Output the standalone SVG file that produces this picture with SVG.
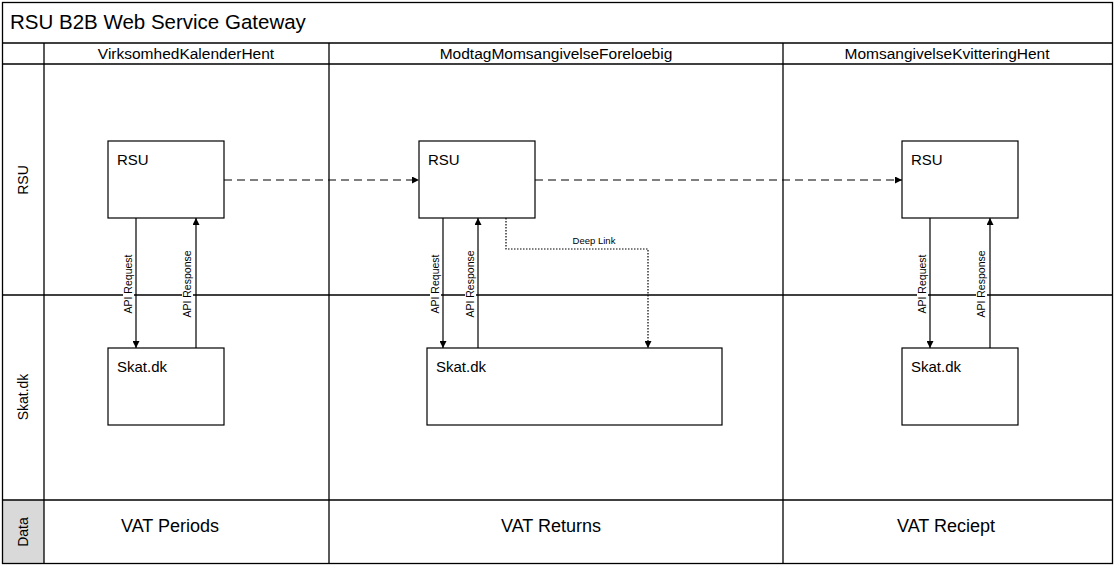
<svg xmlns="http://www.w3.org/2000/svg" width="1115" height="566" viewBox="0 0 1115 566">
<defs>
<style>
.ln{stroke:#000;stroke-width:1.3;fill:none}
.box{fill:#fff;stroke:#000;stroke-width:1.2}
.t{font-family:"Liberation Sans",Arial,sans-serif;fill:#000}
.hdr{font-size:15.5px;text-anchor:middle}
.node{font-size:15px}
.data{font-size:18px;text-anchor:middle}
.lane{font-size:14px;text-anchor:middle}
.sm{font-size:10.5px;text-anchor:middle}
.dl{font-size:9.5px;text-anchor:middle}
.bg{fill:#fff;stroke:none}
.conn{stroke:#000;stroke-width:1.2;fill:none}
</style>
<marker id="ah" viewBox="0 0 10 10" refX="10" refY="5" markerWidth="7" markerHeight="7" orient="auto" markerUnits="userSpaceOnUse">
<path d="M0,0 L10,5 L0,10 Z" fill="#000"/>
</marker>
</defs>
<rect x="0" y="0" width="1115" height="566" fill="#fff"/>
<g id="pool">
<rect x="2.5" y="500" width="41.5" height="63.5" fill="#d9d9d9"/>
<line x1="2.5" y1="43" x2="1112.5" y2="43" class="ln"/>
<line x1="2.5" y1="64" x2="1112.5" y2="64" class="ln"/>
<line x1="44" y1="43" x2="44" y2="563.5" class="ln"/>
<line x1="329" y1="43" x2="329" y2="563.5" class="ln"/>
<line x1="783" y1="43" x2="783" y2="563.5" class="ln"/>
<line x1="2.5" y1="295" x2="1112.5" y2="295" class="ln"/>
<line x1="2.5" y1="500" x2="1112.5" y2="500" class="ln"/>
<rect x="2.5" y="2.5" width="1110" height="561" class="ln"/>
<text x="10" y="29" class="t" font-size="20.5">RSU B2B Web Service Gateway</text>
<text x="186" y="59" class="t hdr">VirksomhedKalenderHent</text>
<text x="556" y="59" class="t hdr">ModtagMomsangivelseForeloebig</text>
<text x="947" y="59" class="t hdr">MomsangivelseKvitteringHent</text>
<text transform="translate(28,180) rotate(-90)" class="t lane">RSU</text>
<text transform="translate(28,397) rotate(-90)" class="t lane">Skat.dk</text>
<text transform="translate(28,532) rotate(-90)" class="t lane">Data</text>
<text x="170" y="532" class="t data">VAT Periods</text>
<text x="551" y="532" class="t data">VAT Returns</text>
<text x="946" y="532" class="t data">VAT Reciept</text>
</g>
<g id="connectors">
<line x1="224" y1="180" x2="419" y2="180" class="conn" stroke-dasharray="8,5" marker-end="url(#ah)"/>
<line x1="535" y1="180" x2="902" y2="180" class="conn" stroke-dasharray="8,5" marker-end="url(#ah)"/>
<line x1="136" y1="218" x2="136" y2="348" class="conn" marker-end="url(#ah)"/>
<line x1="196" y1="348" x2="196" y2="218" class="conn" marker-end="url(#ah)"/>
<line x1="443" y1="218" x2="443" y2="348" class="conn" marker-end="url(#ah)"/>
<line x1="478" y1="348" x2="478" y2="218" class="conn" marker-end="url(#ah)"/>
<line x1="930" y1="218" x2="930" y2="348" class="conn" marker-end="url(#ah)"/>
<line x1="990" y1="348" x2="990" y2="218" class="conn" marker-end="url(#ah)"/>
<polyline points="506,218 506,249 648,249 648,348" class="conn" stroke-width="1" stroke-dasharray="1.5,1.5" marker-end="url(#ah)"/>
<rect x="123" y="253" width="11" height="62" class="bg"/>
<rect x="182" y="249" width="11" height="70" class="bg"/>
<rect x="430" y="253" width="11" height="62" class="bg"/>
<rect x="465" y="249" width="11" height="70" class="bg"/>
<rect x="917" y="253" width="11" height="62" class="bg"/>
<rect x="976" y="249" width="11" height="70" class="bg"/>
<text transform="translate(132,284) rotate(-90)" class="t sm">API Request</text>
<text transform="translate(191,284) rotate(-90)" class="t sm">API Response</text>
<text transform="translate(439,284) rotate(-90)" class="t sm">API Request</text>
<text transform="translate(474,284) rotate(-90)" class="t sm">API Response</text>
<text transform="translate(926,284) rotate(-90)" class="t sm">API Request</text>
<text transform="translate(985,284) rotate(-90)" class="t sm">API Response</text>
<text x="594" y="244" class="t dl">Deep Link</text>
</g>
<g id="rsu1"><rect x="108" y="141" width="116" height="77" class="box"/><text x="117" y="165" class="t node">RSU</text></g>
<g id="rsu2"><rect x="419" y="141" width="116" height="77" class="box"/><text x="428" y="165" class="t node">RSU</text></g>
<g id="rsu3"><rect x="902" y="141" width="116" height="77" class="box"/><text x="911" y="165" class="t node">RSU</text></g>
<g id="skat1"><rect x="108" y="348" width="116" height="77" class="box"/><text x="117" y="372" class="t node">Skat.dk</text></g>
<g id="skat2"><rect x="427" y="348" width="295" height="77" class="box"/><text x="436" y="372" class="t node">Skat.dk</text></g>
<g id="skat3"><rect x="902" y="348" width="116" height="77" class="box"/><text x="911" y="372" class="t node">Skat.dk</text></g>
</svg>
